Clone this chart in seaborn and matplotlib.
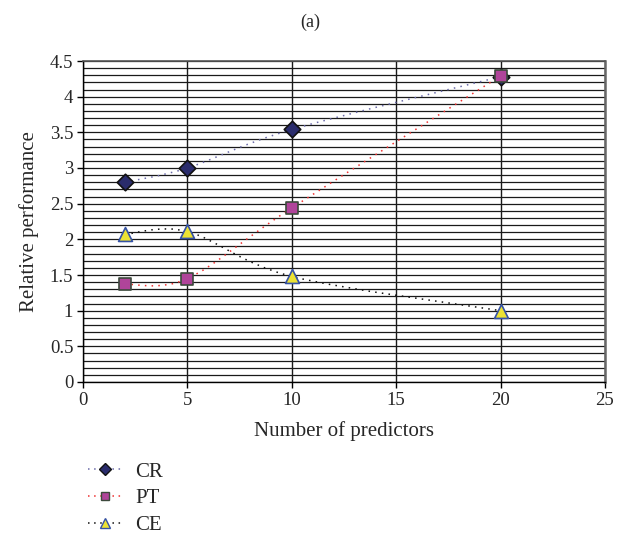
import numpy as np
import pandas as pd
import matplotlib
matplotlib.use("Agg")
import matplotlib.pyplot as plt
import seaborn as sns
from matplotlib.path import Path
from matplotlib.patches import PathPatch
from matplotlib.lines import Line2D

predictors = [2, 5, 10, 20]
cr = [2.80, 3.00, 3.54, 4.28]
pt = [1.37, 1.45, 2.44, 4.29]
ce = [2.07, 2.11, 1.48, 1.00]

series = ["CR", "PT", "CE"]
df = pd.DataFrame({"predictors": predictors * 3,
                   "perf": cr + pt + ce,
                   "series": np.repeat(series, len(predictors))})

sns.set_theme(style="white")
plt.rcParams["font.family"] = ["Liberation Serif", "DejaVu Serif"]

styles = {
    "CR": dict(marker="D", face="#2a2c6c", edge="#111111", line="#6a6aa8", ms=8.4, lms=5.8),
    "PT": dict(marker="s", face="#b0449a", edge="#3c4a3c", line="#ee3030", ms=8.4, lms=6.2),
    "CE": dict(marker="^", face="#ece234", edge="#3552a4", line="#111111", ms=10, lms=6.8),
}

fig = plt.figure(figsize=(6.27, 5.36), dpi=100)
ax = fig.add_axes([83 / 627, 1 - 382 / 536, (605 - 83) / 627, (382 - 61) / 536])


def smooth_path(xs, ys):
    # Excel-like smoothed line: Catmull-Rom segments as cubic Beziers
    p = np.column_stack([xs, ys]).astype(float)
    verts = [p[0]]
    codes = [Path.MOVETO]
    n = len(p)
    for i in range(n - 1):
        p0 = p[i - 1] if i > 0 else p[i]
        p1, p2 = p[i], p[i + 1]
        p3 = p[i + 2] if i + 2 < n else p[i + 1]
        verts += [p1 + (p2 - p0) / 6, p2 - (p3 - p1) / 6, p2]
        codes += [Path.CURVE4] * 3
    return Path(verts, codes)


for name in series:
    st = styles[name]
    sub = df[df.series == name]
    ax.add_patch(PathPatch(smooth_path(sub.predictors, sub.perf), fill=False,
                           edgecolor=st["line"], lw=1.1, linestyle=(0, (1, 3.4)),
                           zorder=3))

for name in series:
    st = styles[name]
    sub = df[df.series == name]
    sns.scatterplot(data=sub, x="predictors", y="perf", ax=ax, marker=st["marker"],
                    s=st["ms"] ** 2, color=st["face"], edgecolor=st["edge"],
                    linewidth=1.2, zorder=4, legend=False)

ax.set_xlim(0, 25)
ax.set_ylim(0, 4.5)
ax.set_xticks(range(0, 26, 5))
ax.set_yticks(np.arange(0, 4.51, 0.5))
ax.set_yticks(np.arange(0, 4.51, 0.1), minor=True)
ax.set_yticklabels(["0", "0.5", "1", "1.5", "2", "2.5", "3", "3.5", "4", "4.5"])

ax.grid(axis="y", which="both", color="#1a1a1a", lw=0.9)
ax.grid(axis="x", which="major", color="#1a1a1a", lw=1.0)
ax.set_axisbelow(True)

ax.tick_params(axis="both", which="major", direction="out", length=4, width=1,
               color="black", labelsize=13.5, pad=3, left=True, bottom=True)
ax.tick_params(axis="y", which="minor", length=0)
for s in ["left", "bottom"]:
    ax.spines[s].set_color("black")
    ax.spines[s].set_linewidth(1.0)
ax.spines["right"].set_color("#666666")
ax.spines["right"].set_linewidth(1.8)
ax.spines["top"].set_color("#555555")
ax.spines["top"].set_linewidth(1.2)

ax.set_xlabel("Number of predictors", fontsize=15, labelpad=9)
ax.set_ylabel("Relative performance", fontsize=15, labelpad=8)

fig.text(310 / 627, 1 - 22 / 536, "(a)", ha="center", va="center", fontsize=13)

handles = [Line2D([], [], linestyle=(0, (1, 3)), lw=1.1, color=styles[n]["line"],
                  marker=styles[n]["marker"], markersize=styles[n]["lms"],
                  markerfacecolor=styles[n]["face"],
                  markeredgecolor=styles[n]["edge"], markeredgewidth=1.0)
           for n in series]
fig.legend(handles, series, loc="upper left", bbox_to_anchor=(88 / 627, 1 - 462 / 536),
           frameon=False, fontsize=15, handlelength=1.65, handletextpad=0.6,
           labelspacing=0.34, numpoints=1, borderaxespad=0, borderpad=0)

fig.savefig("out.png", dpi=100)
